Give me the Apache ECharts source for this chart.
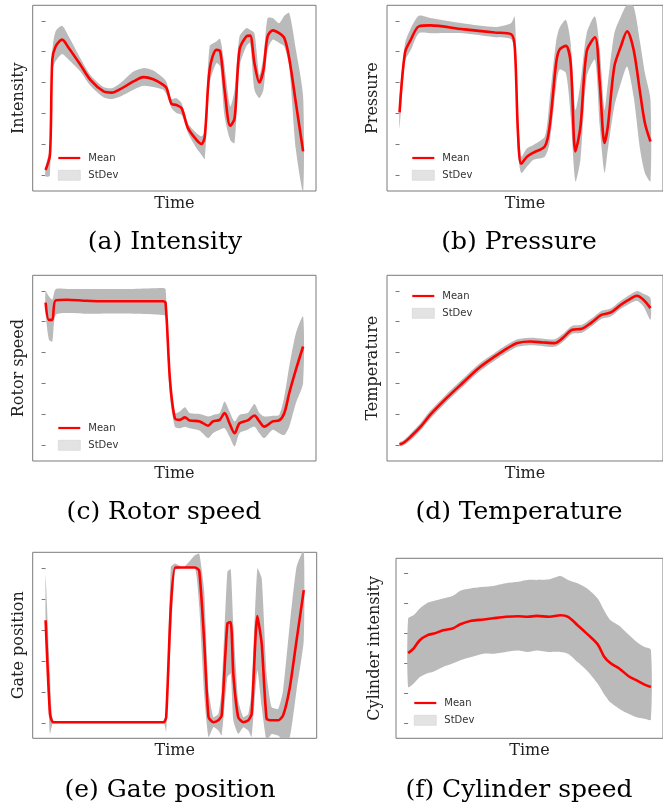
<!DOCTYPE html>
<html><head><meta charset="utf-8">
<script src="https://cdn.jsdelivr.net/npm/echarts@6/dist/echarts.min.js"></script>
<style>html,body{margin:0;padding:0;background:#fff}#c{width:663px;height:811px}</style>
</head><body><div id="c"></div>
<script>
// ---- data (y in tick units: bottom tick = 0, top tick = 5; time normalised 0..100)
const yTicks = [0, 1, 2, 3, 4, 5];

const tA = [0,1.7,2.6,3.9,6.4,9.0,13.5,17.4,22.5,25.7,29.0,34.1,38.0,41.8,45.7,47.0,48.9,50.8,52.8,55.3,58.6,60.5,61.8,63.7,66.3,67.8,69.5,71.7,73.4,75.3,77.9,79.4,81.1,83.0,84.6,86.2,88.2,90.7,92.7,94.6,97.2,100];
const meanA = [0.18,0.67,3.74,4.17,4.39,4.12,3.58,3.09,2.72,2.68,2.79,3.04,3.18,3.11,2.93,2.82,2.32,2.28,2.18,1.53,1.15,1.02,1.26,3.42,4.06,4.01,2.77,1.61,1.85,4.06,4.49,4.52,3.63,3.01,3.42,4.49,4.69,4.60,4.44,3.79,2.34,0.78];
const upA = [0.29,0.9,4.0,4.66,4.84,4.49,3.79,3.25,2.86,2.82,2.98,3.36,3.47,3.39,3.15,3.01,2.47,2.50,2.34,1.69,1.37,1.26,1.42,4.17,4.33,4.41,3.52,2.23,2.77,4.49,4.76,4.71,4.60,3.25,3.85,5.09,5.09,4.92,5.16,5.25,4.06,2.55];
const lowA = [-0.03,0.0,3.4,3.69,3.93,3.74,3.36,2.90,2.53,2.47,2.55,2.77,2.90,2.86,2.77,2.61,2.18,2.02,1.96,1.37,0.88,0.67,0.53,2.98,3.63,3.52,1.91,1.15,1.05,3.52,4.17,4.28,2.77,2.50,2.77,4.06,4.39,4.28,4.17,3.52,0.83,-0.52];

const tB = [0,2.2,4.5,7.7,12.2,25.1,38.0,44.4,45.9,47.2,48.5,50.8,53.4,57.9,59.8,62.4,63.7,66.3,68.2,70.1,72.1,74.6,77.9,79.8,81.7,83.0,85.6,88.2,90.7,93.3,95.9,97.8,100];
const meanB = [2.04,3.98,4.39,4.82,4.85,4.73,4.62,4.57,4.17,1.37,0.38,0.61,0.74,0.94,1.58,3.63,4.06,4.19,3.63,0.78,1.58,4.01,4.47,2.98,1.05,1.58,3.52,4.17,4.66,4.06,2.66,1.69,1.10];
const upB = [2.45,4.28,4.76,5.16,5.09,4.92,4.80,4.92,5.14,2.12,0.61,0.88,0.99,1.26,2.45,4.33,4.76,5.03,4.28,2.12,2.98,4.60,5.14,4.06,2.12,2.98,4.60,5.14,5.52,5.46,4.28,3.31,2.45];
const lowB = [1.53,3.69,4.06,4.60,4.60,4.60,4.47,4.41,3.95,0.72,0.08,0.29,0.51,0.61,1.05,2.88,3.42,3.31,1.91,-0.19,0.51,3.20,3.74,1.58,0.08,0.83,2.23,2.98,3.52,2.55,0.83,0.08,-0.19];

const tC = [0,1.3,2.6,3.9,8.4,14.8,21.2,34.1,45.7,46.6,48.3,50.2,52.1,54.1,56.0,59.9,63.1,65.0,67.6,69.5,71.4,73.4,75.3,78.5,81.1,83.0,84.9,88.2,90.7,92.7,94.6,97.2,100];
const meanC = [4.62,4.06,4.06,4.69,4.71,4.68,4.66,4.66,4.66,4.60,2.12,0.88,0.83,0.91,0.81,0.78,0.64,0.78,0.83,1.05,0.72,0.40,0.72,0.81,0.97,0.78,0.61,0.78,0.81,1.05,1.69,2.45,3.20];
const upC = [4.98,4.82,4.71,5.05,5.06,5.06,5.06,5.06,5.09,5.05,2.45,1.05,1.10,1.24,1.05,1.02,0.94,0.99,1.05,1.42,1.10,0.78,0.99,1.05,1.34,1.05,0.94,0.96,0.99,1.58,2.55,3.63,4.17];
const lowC = [4.28,3.42,3.36,4.22,4.28,4.26,4.26,4.26,4.22,4.17,1.58,0.61,0.56,0.61,0.56,0.48,0.24,0.40,0.51,0.56,0.29,-0.03,0.40,0.51,0.61,0.40,0.24,0.51,0.40,0.34,0.61,1.37,2.02];

const tD = [0,1.5,4.5,8.4,12.2,18.7,25.1,31.5,38.0,43.1,47.0,52.1,57.3,61.8,65.0,68.8,72.7,76.6,80.4,84.2,88.2,92.0,94.6,97.2,100];
const meanD = [0.04,0.08,0.29,0.61,0.99,1.53,2.02,2.50,2.88,3.15,3.31,3.36,3.33,3.31,3.47,3.74,3.77,3.98,4.22,4.30,4.55,4.74,4.84,4.71,4.44];
const upD = [0.10,0.16,0.40,0.73,1.12,1.66,2.15,2.63,3.00,3.27,3.43,3.48,3.45,3.43,3.60,3.87,3.90,4.11,4.35,4.43,4.68,4.88,4.99,4.90,4.76];
const lowD = [-0.02,0.0,0.17,0.49,0.86,1.40,1.89,2.37,2.75,3.02,3.19,3.24,3.21,3.19,3.34,3.61,3.64,3.85,4.09,4.17,4.42,4.60,4.68,4.50,4.06];

const tE = [0,1.7,2.9,8.4,21.2,34.1,45.7,46.7,48.5,50.2,53.4,57.9,59.5,61.4,63.1,65.0,66.9,68.2,70.4,71.7,72.7,74.6,76.6,78.5,79.8,82.0,83.7,85.6,87.5,90.1,92.0,94.6,97.2,100];
const meanE = [3.31,0.29,0.02,0.02,0.02,0.02,0.02,0.18,3.74,5.01,5.01,5.01,4.90,2.66,0.18,0.02,0.08,0.24,3.20,3.25,1.58,0.18,0.02,0.08,0.29,3.44,2.55,0.13,0.08,0.08,0.24,1.15,2.66,4.28];
const upE = [4.76,1.58,0.04,0.03,0.03,0.03,0.05,0.08,5.03,5.14,5.01,5.41,5.46,4.28,1.05,0.18,0.29,1.05,4.87,4.95,3.20,0.72,0.18,0.29,1.05,4.98,4.66,1.58,0.51,0.45,1.05,3.20,5.03,5.57];
const lowE = [3.31,-0.36,0.0,0.01,0.01,0.01,0.0,-0.30,2.66,4.92,5.0,4.98,3.74,0.94,-0.46,-0.14,-0.25,-0.41,1.48,1.58,0.08,-0.36,-0.14,-0.25,-0.46,1.69,0.51,-0.57,-0.36,-0.41,-0.57,-0.46,1.05,2.66];

const tF = [0,2.2,4.8,8.0,10.6,14.4,18.3,21.5,26.0,31.1,35.0,40.2,45.3,49.2,53.0,58.2,62.7,65.9,69.8,73.6,78.1,80.7,83.3,87.1,91.0,94.2,97.4,100];
const meanF = [2.34,2.49,2.77,2.94,2.99,3.10,3.16,3.30,3.42,3.46,3.50,3.55,3.57,3.55,3.58,3.55,3.60,3.55,3.27,2.99,2.63,2.23,2.01,1.82,1.56,1.43,1.29,1.21];
const upF = [3.49,3.60,3.83,4.02,4.08,4.16,4.24,4.42,4.50,4.55,4.58,4.67,4.72,4.78,4.78,4.80,4.91,4.78,4.67,4.50,4.16,3.77,3.44,3.24,2.94,2.71,2.54,2.45];
const lowF = [1.21,1.32,1.54,1.67,1.73,1.88,1.99,2.10,2.21,2.32,2.32,2.38,2.43,2.38,2.43,2.38,2.38,2.32,2.04,1.76,1.32,0.98,0.70,0.48,0.31,0.20,0.15,0.12];

const yNames = ['Intensity', 'Pressure', 'Rotor speed', 'Temperature', 'Gate position', 'Cylinder intensity'];
const captions = ['(a) Intensity', '(b) Pressure', '(c) Rotor speed', '(d) Temperature', '(e) Gate position', '(f) Cylinder speed'];
const legendNames = ['Mean', 'StDev'];

// ---- layout (pixels)
const panels = [
  {t:tA, m:meanA, lo:lowA, up:upA, grid:{left:32.7, top:5.3, width:283.3, height:185.7}, leg:{left:58, top:153}, cap:[165,242], yGap:6, xGap:5, smooth:0.3},
  {t:tB, m:meanB, lo:lowB, up:upB, grid:{left:387, top:5.3, width:283.3, height:185.7}, leg:{left:412, top:153}, cap:[519,242], yGap:6, xGap:5, smooth:0.3},
  {t:tC, m:meanC, lo:lowC, up:upC, grid:{left:32.7, top:275.3, width:283.3, height:185.7}, leg:{left:58, top:423}, cap:[164,512], yGap:6, xGap:5, smooth:0.3},
  {t:tD, m:meanD, lo:lowD, up:upD, grid:{left:387, top:275.3, width:283.3, height:185.7}, leg:{left:412, top:291}, cap:[519,512], yGap:6, xGap:5, smooth:0.3},
  {t:tE, m:meanE, lo:lowE, up:upE, grid:{left:32.7, top:552.3, width:284, height:186}, leg:null, cap:[170,790], yGap:6, xGap:4.5, smooth:0.2},
  {t:tF, m:meanF, lo:lowF, up:upF, grid:{left:396, top:558.3, width:283, height:180}, leg:{left:414, top:698}, cap:[519,790], yGap:13, xGap:4.5, smooth:0.3}
];

const grids = [], xAxes = [], yAxes = [], series = [], legends = [], graphics = [];
const FRAME = '#7a7a7a';
const BAND = '#bababa';
// thin horizontal bar inside a 22x10 box (legend line glyph)
const LINE_ICON = 'path://M0,0M22,10M0,3.9L22,3.9L22,6.1L0,6.1Z';

panels.forEach((p, i) => {
  grids.push(Object.assign({show:true, borderColor:FRAME, borderWidth:1, backgroundColor:'transparent', containLabel:false}, p.grid));
  xAxes.push({
    gridIndex:i, type:'value', min:-5, max:105,
    axisLine:{show:false}, axisTick:{show:false}, axisLabel:{show:false}, splitLine:{show:false},
    name:'Time', nameLocation:'middle', nameGap:p.xGap,
    nameTextStyle:{fontFamily:'DejaVu Serif', fontSize:16, color:'#222'}
  });
  yAxes.push({
    gridIndex:i, type:'value', min:-0.5, max:5.5,
    axisLine:{show:false},
    axisTick:{show:true, customValues:yTicks, length:4, lineStyle:{color:FRAME, width:1}},
    axisLabel:{show:false}, splitLine:{show:false},
    name:yNames[i], nameLocation:'middle', nameGap:p.yGap,
    nameTextStyle:{fontFamily:'DejaVu Serif', fontSize:16, color:'#222'}
  });
  // StDev band drawn as one polygon through the axis scales
  series.push({
    type:'custom', name:legendNames[1], xAxisIndex:i, yAxisIndex:i, silent:true,
    data:p.t.map((tv, k) => [tv, p.lo[k], p.up[k]]),
    encode:{x:0, y:[1, 2]},
    itemStyle:{color:BAND},
    renderItem:(params, api) => {
      if (params.dataIndex !== 0) return null;
      const pts = [];
      for (let k = 0; k < p.t.length; k++) pts.push(api.coord([p.t[k], p.up[k]]));
      for (let k = p.t.length - 1; k >= 0; k--) pts.push(api.coord([p.t[k], p.lo[k]]));
      const cs = params.coordSys;
      return {
        type:'polygon', shape:{points:pts, smooth:p.smooth * 0.8},
        style:{fill:BAND, stroke:null},
        clipPath:{type:'rect', shape:{x:cs.x, y:cs.y, width:cs.width, height:cs.height}}
      };
    }
  });
  series.push({
    type:'line', name:legendNames[0], xAxisIndex:i, yAxisIndex:i,
    data:p.t.map((tv, k) => [tv, p.m[k]]), symbol:'none', showSymbol:false, smooth:p.smooth, silent:true,
    lineStyle:{color:'#ff0000', width:2.6}, itemStyle:{color:'#ff0000'}, z:3
  });
  if (p.leg) {
    legends.push({
      left:p.leg.left, top:p.leg.top, orient:'vertical', itemWidth:22, itemHeight:10, itemGap:7,
      selectedMode:false, padding:0, symbolKeepAspect:true,
      textStyle:{fontFamily:'DejaVu Sans', fontSize:10, color:'#333', padding:[0,0,0,3]},
      data:[
        {name:legendNames[0], icon:LINE_ICON, itemStyle:{color:'#ff0000', borderWidth:0}},
        {name:legendNames[1], icon:'rect', itemStyle:{color:'#e3e3e3', borderColor:'#d2d2d2', borderWidth:0.6}}
      ]
    });
  }
  graphics.push({
    type:'text', x:p.cap[0], y:p.cap[1],
    style:{text:captions[i], font:'25px "DejaVu Serif"', fill:'#000', textAlign:'center', textVerticalAlign:'middle', verticalAlign:'middle'}
  });
});

const chart = echarts.init(document.getElementById('c'), null, {renderer:'canvas'});
chart.setOption({
  animation:false,
  backgroundColor:'#fff',
  grid:grids, xAxis:xAxes, yAxis:yAxes, series:series, legend:legends, graphic:graphics
});
</script></body></html>
